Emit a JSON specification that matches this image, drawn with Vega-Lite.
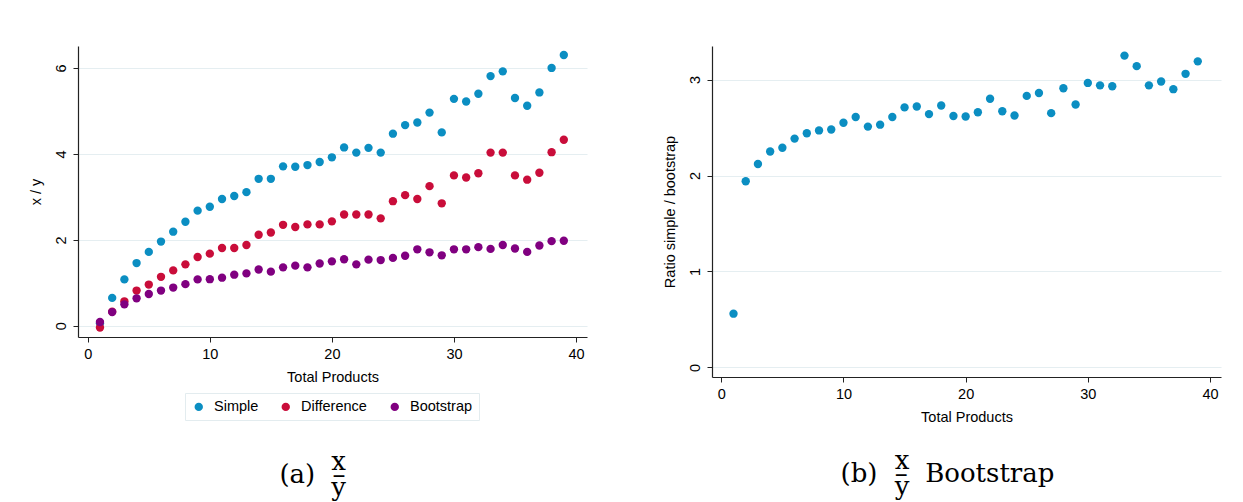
{
  "$schema": "https://vega.github.io/schema/vega-lite/v6.json",
  "background": "white",
  "padding": {"left": 28, "top": 46, "right": 5, "bottom": 0},
  "spacing": 75,
  "config": {
    "font": "Liberation Sans",
    "view": {"stroke": null},
    "axis": {
      "domainColor": "#222", "tickColor": "#222", "tickSize": 5, "domainWidth": 1.2,
      "labelFont": "Liberation Sans", "labelFontSize": 14.5, "labelColor": "#000", "labelPadding": 5,
      "titleFont": "Liberation Sans", "titleFontSize": 14.5, "titleFontWeight": "normal", "titleColor": "#000",
      "gridColor": "#e5eef1", "gridWidth": 1.2
    },
    "axisX": {"grid": false, "titlePadding": 10},
    "axisY": {"grid": true, "labelAngle": 270, "titlePadding": 10},
    "title": {"font": "DejaVu Serif", "fontSize": 26, "fontWeight": "normal", "color": "#000", "lineHeight": 13}
  },
  "datasets": {
    "xy": [
      {"products": 1, "method": "Simple", "value": 0.06},
      {"products": 2, "method": "Simple", "value": 0.65},
      {"products": 3, "method": "Simple", "value": 1.08},
      {"products": 4, "method": "Simple", "value": 1.46},
      {"products": 5, "method": "Simple", "value": 1.72},
      {"products": 6, "method": "Simple", "value": 1.96},
      {"products": 7, "method": "Simple", "value": 2.19},
      {"products": 8, "method": "Simple", "value": 2.42},
      {"products": 9, "method": "Simple", "value": 2.68},
      {"products": 10, "method": "Simple", "value": 2.77},
      {"products": 11, "method": "Simple", "value": 2.95},
      {"products": 12, "method": "Simple", "value": 3.02},
      {"products": 13, "method": "Simple", "value": 3.11},
      {"products": 14, "method": "Simple", "value": 3.42},
      {"products": 15, "method": "Simple", "value": 3.42},
      {"products": 16, "method": "Simple", "value": 3.71},
      {"products": 17, "method": "Simple", "value": 3.70},
      {"products": 18, "method": "Simple", "value": 3.74},
      {"products": 19, "method": "Simple", "value": 3.81},
      {"products": 20, "method": "Simple", "value": 3.92},
      {"products": 21, "method": "Simple", "value": 4.15},
      {"products": 22, "method": "Simple", "value": 4.03},
      {"products": 23, "method": "Simple", "value": 4.14},
      {"products": 24, "method": "Simple", "value": 4.03},
      {"products": 25, "method": "Simple", "value": 4.47},
      {"products": 26, "method": "Simple", "value": 4.67},
      {"products": 27, "method": "Simple", "value": 4.73},
      {"products": 28, "method": "Simple", "value": 4.96},
      {"products": 29, "method": "Simple", "value": 4.50},
      {"products": 30, "method": "Simple", "value": 5.28},
      {"products": 31, "method": "Simple", "value": 5.22},
      {"products": 32, "method": "Simple", "value": 5.40},
      {"products": 33, "method": "Simple", "value": 5.81},
      {"products": 34, "method": "Simple", "value": 5.92},
      {"products": 35, "method": "Simple", "value": 5.30},
      {"products": 36, "method": "Simple", "value": 5.12},
      {"products": 37, "method": "Simple", "value": 5.43},
      {"products": 38, "method": "Simple", "value": 6.00},
      {"products": 39, "method": "Simple", "value": 6.30},
      {"products": 1, "method": "Difference", "value": -0.04},
      {"products": 2, "method": "Difference", "value": 0.33},
      {"products": 3, "method": "Difference", "value": 0.57},
      {"products": 4, "method": "Difference", "value": 0.82},
      {"products": 5, "method": "Difference", "value": 0.96},
      {"products": 6, "method": "Difference", "value": 1.14},
      {"products": 7, "method": "Difference", "value": 1.29},
      {"products": 8, "method": "Difference", "value": 1.43},
      {"products": 9, "method": "Difference", "value": 1.60},
      {"products": 10, "method": "Difference", "value": 1.68},
      {"products": 11, "method": "Difference", "value": 1.81},
      {"products": 12, "method": "Difference", "value": 1.81},
      {"products": 13, "method": "Difference", "value": 1.88},
      {"products": 14, "method": "Difference", "value": 2.12},
      {"products": 15, "method": "Difference", "value": 2.17},
      {"products": 16, "method": "Difference", "value": 2.35},
      {"products": 17, "method": "Difference", "value": 2.30},
      {"products": 18, "method": "Difference", "value": 2.36},
      {"products": 19, "method": "Difference", "value": 2.36},
      {"products": 20, "method": "Difference", "value": 2.43},
      {"products": 21, "method": "Difference", "value": 2.59},
      {"products": 22, "method": "Difference", "value": 2.59},
      {"products": 23, "method": "Difference", "value": 2.59},
      {"products": 24, "method": "Difference", "value": 2.50},
      {"products": 25, "method": "Difference", "value": 2.90},
      {"products": 26, "method": "Difference", "value": 3.04},
      {"products": 27, "method": "Difference", "value": 2.95},
      {"products": 28, "method": "Difference", "value": 3.25},
      {"products": 29, "method": "Difference", "value": 2.85},
      {"products": 30, "method": "Difference", "value": 3.50},
      {"products": 31, "method": "Difference", "value": 3.45},
      {"products": 32, "method": "Difference", "value": 3.55},
      {"products": 33, "method": "Difference", "value": 4.03},
      {"products": 34, "method": "Difference", "value": 4.03},
      {"products": 35, "method": "Difference", "value": 3.50},
      {"products": 36, "method": "Difference", "value": 3.40},
      {"products": 37, "method": "Difference", "value": 3.56},
      {"products": 38, "method": "Difference", "value": 4.04},
      {"products": 39, "method": "Difference", "value": 4.33},
      {"products": 1, "method": "Bootstrap", "value": 0.09},
      {"products": 2, "method": "Bootstrap", "value": 0.32},
      {"products": 3, "method": "Bootstrap", "value": 0.50},
      {"products": 4, "method": "Bootstrap", "value": 0.64},
      {"products": 5, "method": "Bootstrap", "value": 0.74},
      {"products": 6, "method": "Bootstrap", "value": 0.82},
      {"products": 7, "method": "Bootstrap", "value": 0.89},
      {"products": 8, "method": "Bootstrap", "value": 0.97},
      {"products": 9, "method": "Bootstrap", "value": 1.08},
      {"products": 10, "method": "Bootstrap", "value": 1.085},
      {"products": 11, "method": "Bootstrap", "value": 1.12},
      {"products": 12, "method": "Bootstrap", "value": 1.19},
      {"products": 13, "method": "Bootstrap", "value": 1.22},
      {"products": 14, "method": "Bootstrap", "value": 1.31},
      {"products": 15, "method": "Bootstrap", "value": 1.26},
      {"products": 16, "method": "Bootstrap", "value": 1.36},
      {"products": 17, "method": "Bootstrap", "value": 1.40},
      {"products": 18, "method": "Bootstrap", "value": 1.36},
      {"products": 19, "method": "Bootstrap", "value": 1.45},
      {"products": 20, "method": "Bootstrap", "value": 1.50},
      {"products": 21, "method": "Bootstrap", "value": 1.55},
      {"products": 22, "method": "Bootstrap", "value": 1.43},
      {"products": 23, "method": "Bootstrap", "value": 1.54},
      {"products": 24, "method": "Bootstrap", "value": 1.53},
      {"products": 25, "method": "Bootstrap", "value": 1.58},
      {"products": 26, "method": "Bootstrap", "value": 1.63},
      {"products": 27, "method": "Bootstrap", "value": 1.78},
      {"products": 28, "method": "Bootstrap", "value": 1.71},
      {"products": 29, "method": "Bootstrap", "value": 1.64},
      {"products": 30, "method": "Bootstrap", "value": 1.78},
      {"products": 31, "method": "Bootstrap", "value": 1.78},
      {"products": 32, "method": "Bootstrap", "value": 1.83},
      {"products": 33, "method": "Bootstrap", "value": 1.79},
      {"products": 34, "method": "Bootstrap", "value": 1.88},
      {"products": 35, "method": "Bootstrap", "value": 1.80},
      {"products": 36, "method": "Bootstrap", "value": 1.72},
      {"products": 37, "method": "Bootstrap", "value": 1.87},
      {"products": 38, "method": "Bootstrap", "value": 1.97},
      {"products": 39, "method": "Bootstrap", "value": 1.98}
    ],
    "ratio": [
      {"products": 1, "ratio": 0.56},
      {"products": 2, "ratio": 1.94},
      {"products": 3, "ratio": 2.12},
      {"products": 4, "ratio": 2.25},
      {"products": 5, "ratio": 2.29},
      {"products": 6, "ratio": 2.385},
      {"products": 7, "ratio": 2.44},
      {"products": 8, "ratio": 2.47},
      {"products": 9, "ratio": 2.48},
      {"products": 10, "ratio": 2.55},
      {"products": 11, "ratio": 2.61},
      {"products": 12, "ratio": 2.51},
      {"products": 13, "ratio": 2.53},
      {"products": 14, "ratio": 2.61},
      {"products": 15, "ratio": 2.71},
      {"products": 16, "ratio": 2.72},
      {"products": 17, "ratio": 2.64},
      {"products": 18, "ratio": 2.73},
      {"products": 19, "ratio": 2.62},
      {"products": 20, "ratio": 2.615},
      {"products": 21, "ratio": 2.66},
      {"products": 22, "ratio": 2.80},
      {"products": 23, "ratio": 2.67},
      {"products": 24, "ratio": 2.625},
      {"products": 25, "ratio": 2.83},
      {"products": 26, "ratio": 2.86},
      {"products": 27, "ratio": 2.65},
      {"products": 28, "ratio": 2.91},
      {"products": 29, "ratio": 2.74},
      {"products": 30, "ratio": 2.965},
      {"products": 31, "ratio": 2.94},
      {"products": 32, "ratio": 2.93},
      {"products": 33, "ratio": 3.25},
      {"products": 34, "ratio": 3.14},
      {"products": 35, "ratio": 2.94},
      {"products": 36, "ratio": 2.98},
      {"products": 37, "ratio": 2.90},
      {"products": 38, "ratio": 3.06},
      {"products": 39, "ratio": 3.19}
    ]
  },
  "hconcat": [
    {
      "width": 509,
      "height": 291,
      "data": {"name": "xy"},
      "title": {
        "text": ["\u200B\u2003\u2003x\u200B", "(a)\u2002\u2006\u2013", "\u200B\u2003\u2003y\u200B"],
        "orient": "bottom", "anchor": "middle", "offset": 65, "dx": -20
      },
      "mark": {"type": "point", "filled": true, "size": 70, "opacity": 1},
      "encoding": {
        "x": {
          "field": "products", "type": "quantitative",
          "scale": {"domain": [-0.8, 40.9], "nice": false, "zero": false},
          "axis": {"values": [0, 10, 20, 30, 40], "title": "Total Products"}
        },
        "y": {
          "field": "value", "type": "quantitative",
          "scale": {"domain": [-0.26, 6.51], "nice": false, "zero": false},
          "axis": {"values": [0, 2, 4, 6], "title": "x / y"}
        },
        "color": {
          "field": "method", "type": "nominal",
          "scale": {"domain": ["Simple", "Difference", "Bootstrap"], "range": ["#0b8ec2", "#c90d3a", "#800080"]},
          "legend": {
            "title": null, "orient": "none", "legendX": 107, "legendY": 347,
            "direction": "horizontal", "symbolType": "circle", "symbolSize": 70,
            "labelFont": "Liberation Sans", "labelFontSize": 14.5, "labelColor": "#000",
            "strokeColor": "#e3ecef", "fillColor": "white", "padding": 6.5,
            "columnPadding": 20, "labelOffset": 8
          }
        }
      }
    },
    {
      "width": 509,
      "height": 331,
      "data": {"name": "ratio"},
      "title": {
        "text": ["\u200B\u2003\u2003\u200Ax\u2003\u2003\u2003\u2003\u2003\u2002\u200A\u200B", "(b)\u2002\u2006\u2013\u2002\u2006Bootstrap", "\u200B\u2003\u2003\u200Ay\u2003\u2003\u2003\u2003\u2003\u2002\u200A\u200B"],
        "orient": "bottom", "anchor": "middle", "offset": 24, "dx": -19
      },
      "mark": {"type": "point", "filled": true, "size": 70, "opacity": 1, "color": "#0b8ec2"},
      "encoding": {
        "x": {
          "field": "products", "type": "quantitative",
          "scale": {"domain": [-0.76, 40.9], "nice": false, "zero": false},
          "axis": {"values": [0, 10, 20, 30, 40], "title": "Total Products"}
        },
        "y": {
          "field": "ratio", "type": "quantitative",
          "scale": {"domain": [-0.1, 3.35], "nice": false, "zero": false},
          "axis": {"values": [0, 1, 2, 3], "title": "Ratio simple / bootstrap"}
        }
      }
    }
  ]
}
